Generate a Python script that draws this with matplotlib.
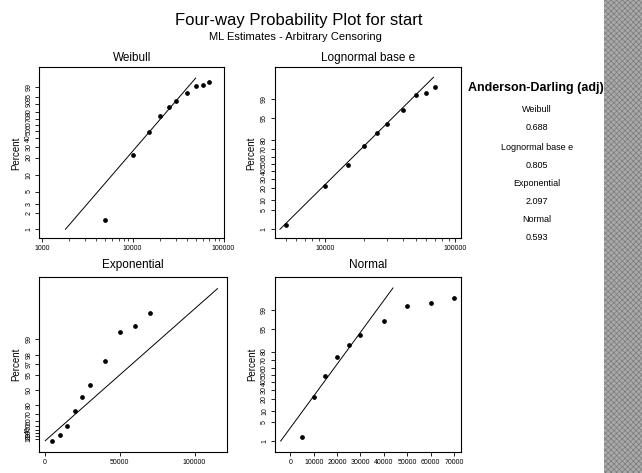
import numpy as np
import matplotlib
matplotlib.use('Agg')
import matplotlib.pyplot as plt
from matplotlib import font_manager
from matplotlib.patches import Rectangle
from math import erf

# plotted points (start times and their estimated percents)
start_times = [5000, 10000, 15000, 20000, 25000, 30000, 40000, 50000, 60000, 70000]
percents = [1.5, 22, 49, 74, 86.2, 92.2, 97.3, 99.3, 99.45, 99.7]

# ML fitted parameters
weibull_shape, weibull_scale = 1.98, 18600
lognormal_loc, lognormal_scale = 9.58, 0.502
exponential_mean = 16700
normal_mean, normal_sd = 16500, 8860
line_percents = [1, 99.9]

ad_names = ['Weibull', 'Lognormal base e', 'Exponential', 'Normal']
ad_values = [0.688, 0.805, 2.097, 0.593]

weibull_yticks = [1, 2, 3, 5, 10, 20, 30, 40, 50, 60, 70, 80, 90, 95, 99]
normal_yticks = [1, 5, 10, 20, 30, 40, 50, 60, 70, 80, 95, 99]
expo_yticks = [10, 20, 30, 40, 50, 60, 70, 80, 90, 95, 97, 98, 99]


names = {f.name for f in font_manager.fontManager.ttflist}
base_font = 'Liberation Sans Narrow' if 'Liberation Sans Narrow' in names else 'Liberation Sans'
plt.rcParams['font.family'] = [base_font, 'DejaVu Sans']
plt.rcParams['hatch.linewidth'] = 0.5


def norm_ppf(p):
    p = np.asarray(p, dtype=float)
    a = [-3.969683028665376e+01, 2.209460984245205e+02, -2.759285104469687e+02,
         1.383577518672690e+02, -3.066479806614716e+01, 2.506628277459239e+00]
    b = [-5.447609879822406e+01, 1.615858368580409e+02, -1.556989798598866e+02,
         6.680131188771972e+01, -1.328068155288572e+01]
    c = [-7.784894002430293e-03, -3.223964580411365e-01, -2.400758276357616e+00,
         -2.549671010994798e+00, 4.374664141464968e+00, 2.938163982698783e+00]
    d = [7.784695709041462e-03, 3.224671290700398e-01, 2.445134137142996e+00,
         3.754408661907416e+00]
    p = np.clip(p, 1e-12, 1 - 1e-12)
    out = np.empty_like(p)
    lo = p < 0.02425
    hi = p > 1 - 0.02425
    mid = ~(lo | hi)
    q = np.sqrt(-2 * np.log(p[lo]))
    out[lo] = (((((c[0]*q+c[1])*q+c[2])*q+c[3])*q+c[4])*q+c[5]) / ((((d[0]*q+d[1])*q+d[2])*q+d[3])*q+1)
    q = np.sqrt(-2 * np.log(1 - p[hi]))
    out[hi] = -(((((c[0]*q+c[1])*q+c[2])*q+c[3])*q+c[4])*q+c[5]) / ((((d[0]*q+d[1])*q+d[2])*q+d[3])*q+1)
    q = p[mid] - 0.5
    r = q * q
    out[mid] = (((((a[0]*r+a[1])*r+a[2])*r+a[3])*r+a[4])*r+a[5])*q / (((((b[0]*r+b[1])*r+b[2])*r+b[3])*r+b[4])*r+1)
    return out


def norm_cdf(z):
    return np.vectorize(lambda v: 0.5 * (1 + erf(v / np.sqrt(2))))(np.asarray(z, dtype=float))


# probability scales (percent <-> transformed)
def weib_fwd(p):
    p = np.clip(np.asarray(p, dtype=float), 1e-9, 100 - 1e-9)
    return np.log(-np.log(1 - p / 100))


def weib_inv(w):
    return 100 * (1 - np.exp(-np.exp(np.asarray(w, dtype=float))))


def norm_fwd(p):
    return norm_ppf(np.asarray(p, dtype=float) / 100)


def norm_inv(z):
    return 100 * norm_cdf(z)


def expo_fwd(p):
    p = np.minimum(np.asarray(p, dtype=float), 100 - 1e-9)
    return -np.log(1 - p / 100)


def expo_inv(e):
    return 100 * (1 - np.exp(-np.asarray(e, dtype=float)))


fig = plt.figure(figsize=(6.42, 4.73), dpi=100)

W = 642.0
H = 473.0


def make_ax(x0, x1, y0, y1):
    return fig.add_axes([x0 / W, 1 - y1 / H, (x1 - x0) / W, (y1 - y0) / H])


ax_w = make_ax(39.3, 224.3, 67.5, 238.3)
ax_l = make_ax(274.5, 461.0, 67.5, 238.3)
ax_e = make_ax(39.3, 226.7, 277.3, 452.3)
ax_n = make_ax(275.0, 461.3, 277.3, 452.3)

lp = np.array(line_percents) / 100.0

# Weibull
ax_w.set_xscale('log')
ax_w.set_yscale('function', functions=(weib_fwd, weib_inv))
wx = weibull_scale * (-np.log(1 - lp)) ** (1 / weibull_shape)
ax_w.plot(wx, line_percents, color='black', lw=0.7)
ax_w.plot(start_times, percents, 'o', color='black', ms=2.4)
ax_w.set_xlim(940, 102000)
ax_w.set_ylim(weib_inv(-4.99), weib_inv(2.39))
ax_w.set_yticks(weibull_yticks)
ax_w.set_xticks([1000, 10000, 100000])
ax_w.set_title('Weibull', fontsize=8.5, pad=5)

# Lognormal
ax_l.set_xscale('log')
ax_l.set_yscale('function', functions=(norm_fwd, norm_inv))
lx = np.exp(lognormal_loc + lognormal_scale * norm_ppf(lp))
ax_l.plot(lx, line_percents, color='black', lw=0.7)
ax_l.plot(start_times, percents, 'o', color='black', ms=2.4)
ax_l.set_xlim(4090, 111000)
ax_l.set_ylim(norm_inv(-2.647), norm_inv(3.437))
ax_l.set_yticks(normal_yticks)
ax_l.set_xticks([10000, 100000])
ax_l.set_title('Lognormal base e', fontsize=8.5, pad=5)

# Exponential
ax_e.set_yscale('function', functions=(expo_fwd, expo_inv))
ex = -exponential_mean * np.log(1 - lp)
ax_e.plot(ex, line_percents, color='black', lw=0.7)
ax_e.plot(start_times, percents, 'o', color='black', ms=2.4)
ax_e.set_xlim(-3800, 121500)
ax_e.set_ylim(expo_inv(-0.516), expo_inv(7.42))
ax_e.set_yticks(expo_yticks)
ax_e.set_xticks([0, 50000, 100000])
ax_e.set_title('Exponential', fontsize=8.5, pad=7)

# Normal
ax_n.set_yscale('function', functions=(norm_fwd, norm_inv))
nx = normal_mean + normal_sd * norm_ppf(lp)
ax_n.plot(nx, line_percents, color='black', lw=0.7)
ax_n.plot(start_times, percents, 'o', color='black', ms=2.4)
ax_n.set_xlim(-6550, 73100)
ax_n.set_ylim(norm_inv(-2.726), norm_inv(3.469))
ax_n.set_yticks(normal_yticks)
ax_n.set_xticks(range(0, 70001, 10000))
ax_n.set_title('Normal', fontsize=8.5, pad=7)

for ax in (ax_w, ax_l, ax_e, ax_n):
    ax.yaxis.set_minor_locator(matplotlib.ticker.NullLocator())
    ax.yaxis.set_major_formatter(matplotlib.ticker.FuncFormatter(lambda v, pos: '%g' % v))
    ax.xaxis.set_major_formatter(matplotlib.ticker.FuncFormatter(lambda v, pos: '%d' % v))
    ax.tick_params(direction='out', length=3, width=0.6, labelsize=5, pad=2)
    ax.tick_params(which='minor', direction='out', length=2, width=0.5)
    ax.tick_params(axis='y', labelrotation=90)
    for lab in ax.get_yticklabels():
        lab.set_verticalalignment('center')
    ax.set_ylabel('Percent', fontsize=7, labelpad=3)
    for s in ax.spines.values():
        s.set_linewidth(0.8)

fig.text(299 / W, 1 - 20 / H, 'Four-way Probability Plot for start', ha='center', va='center', fontsize=12)
fig.text(295 / W, 1 - 37 / H, 'ML Estimates - Arbitrary Censoring', ha='center', va='center', fontsize=8)

fig.text(536 / W, 1 - 88 / H, 'Anderson-Darling (adj)', ha='center', va='center', fontsize=9, fontweight='bold')
ad_y = [109, 128, 147, 165, 183, 201, 219, 237]
for i, (name, val) in enumerate(zip(ad_names, ad_values)):
    fig.text(537 / W, 1 - ad_y[2 * i] / H, name, ha='center', va='center', fontsize=6.5)
    fig.text(537 / W, 1 - ad_y[2 * i + 1] / H, '%.3f' % val, ha='center', va='center', fontsize=6.5)

# scanned grey strip at the right edge
fig.add_artist(Rectangle((604 / W, 0), 38 / W, 1, transform=fig.transFigure,
                         facecolor='#aaaaaa', edgecolor='#7a7a7a', hatch='xxxxxx', linewidth=0))

fig.savefig('out.png', dpi=100)
